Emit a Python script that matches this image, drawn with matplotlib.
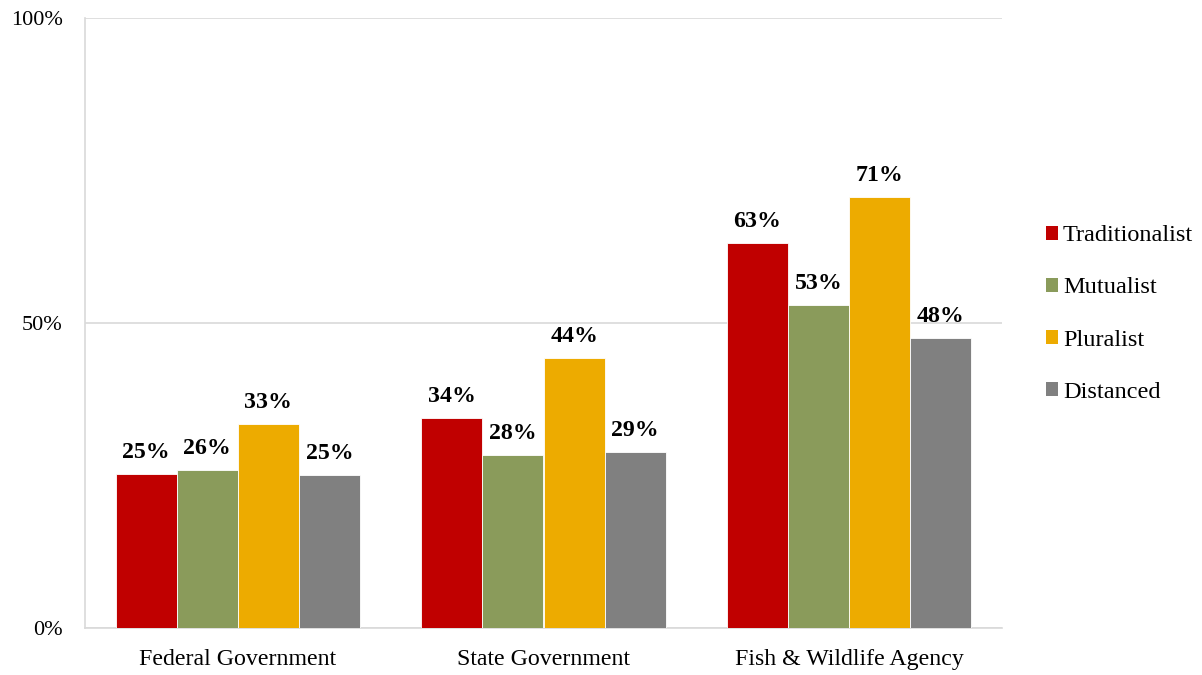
import matplotlib
matplotlib.use("Agg")
import matplotlib.pyplot as plt
from matplotlib.patches import Patch
import numpy as np

# datos
categorias = ["Federal Government", "State Government", "Fish & Wildlife Agency"]
grupos = ["Traditionalist", "Mutualist", "Pluralist", "Distanced"]
traditionalist = [25.2, 34.4, 63.1]
mutualist = [25.9, 28.4, 53.0]
pluralist = [33.4, 44.3, 70.7]
distanced = [25.1, 28.9, 47.6]
valores = [traditionalist, mutualist, pluralist, distanced]
colores = ["#C00000", "#8A9B5B", "#EDAB00", "#808080"]

plt.rcParams['font.family'] = ['Liberation Serif', 'DejaVu Serif']

fig = plt.figure(figsize=(12.02, 6.75), dpi=100)
ax = fig.add_axes([85 / 1202, 1 - 628 / 675, 917 / 1202, 610 / 675])

x = np.arange(len(categorias))
ancho = 0.2
for i, (serie, color) in enumerate(zip(valores, colores)):
    pos = x + (i - 1.5) * ancho
    barras = ax.bar(pos, serie, ancho, color=color, edgecolor="white", linewidth=0.6, zorder=3)
    for b, v in zip(barras, serie):
        ax.annotate("{:.0f}%".format(v), (b.get_x() + b.get_width() / 2, v),
                    xytext=(0, 8), textcoords="offset points",
                    ha="center", va="bottom", fontsize=17.2, fontweight="bold")

ax.set_xlim(-0.5, 2.5)
ax.set_ylim(0, 100)
ax.set_yticks([0, 50, 100])
ax.set_yticklabels(["0%", "50%", "100%"])
ax.set_xticks(x)
ax.set_xticklabels(categorias)
ax.tick_params(axis="both", length=0)
ax.tick_params(axis="y", pad=16, labelsize=16)
ax.tick_params(axis="x", pad=15, labelsize=17.2)
ax.grid(axis="y", color="#D9D9D9", linewidth=1.2, zorder=0)
for lado in ["top", "right"]:
    ax.spines[lado].set_visible(False)
for lado in ["left", "bottom"]:
    ax.spines[lado].set_color("#D9D9D9")
    ax.spines[lado].set_linewidth(1.2)

handles = [Patch(facecolor=c, edgecolor="none") for c in colores]
fig.legend(handles, grupos, loc="center left", bbox_to_anchor=(1046 / 1202, 1 - 314 / 675),
           frameon=False, fontsize=17.5, handlelength=0.5, handleheight=0.5,
           handletextpad=0.2, labelspacing=1.28, borderpad=0, borderaxespad=0)

fig.savefig("out.png", dpi=100)
